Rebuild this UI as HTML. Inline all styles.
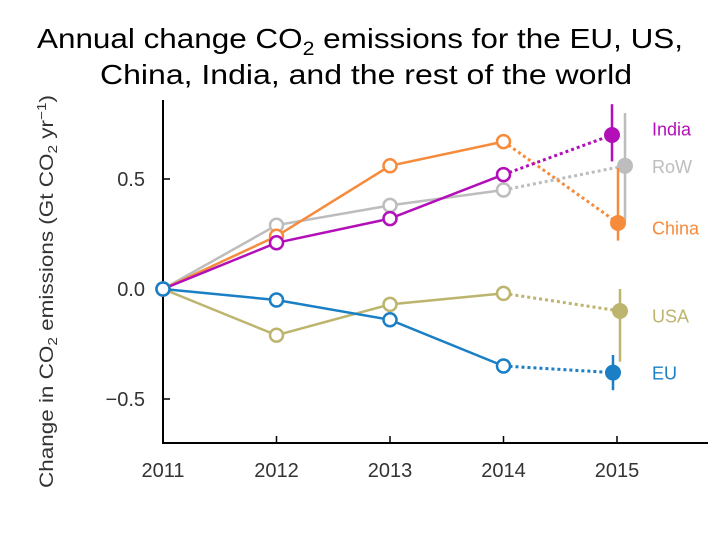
<!DOCTYPE html>
<html><head><meta charset="utf-8"><style>
body{margin:0;background:#fff;width:720px;height:540px;overflow:hidden;font-family:"Liberation Sans",sans-serif}
</style></head><body>
<svg width="720" height="540" xmlns="http://www.w3.org/2000/svg">
<text x="37" y="48" font-size="28" fill="#000" textLength="646" lengthAdjust="spacingAndGlyphs">Annual change CO<tspan font-size="19" dy="7">2</tspan><tspan dy="-7"> emissions for the EU, US,</tspan></text>
<text x="100" y="84" font-size="28" fill="#000" textLength="532" lengthAdjust="spacingAndGlyphs">China, India, and the rest of the world</text>
<text transform="translate(53,488) rotate(-90)" font-size="19" fill="#333" textLength="393" lengthAdjust="spacingAndGlyphs">Change in CO<tspan font-size="13" dy="4">2</tspan><tspan dy="-4"> emissions  (Gt CO</tspan><tspan font-size="13" dy="4">2</tspan><tspan dy="-4"> yr</tspan><tspan font-size="13" dy="-7">−1</tspan><tspan dy="7">)</tspan></text>
<g id="axes"></g>
<g id="series"></g>
</svg>
<script>
const years=[2011,2012,2013,2014,2015];
const yTicks=[0.5,0.0,-0.5];
const yTickLabels=["0.5","0.0","−0.5"];
const names=["RoW","China","India","USA","EU"];
const colors=["#bdbdbd","#f68b3c","#b20fb8","#bdb46d","#1a7fc4"];
const valRoW=[0,0.29,0.38,0.45,0.56];
const valChina=[0,0.24,0.56,0.67,0.30];
const valIndia=[0,0.21,0.32,0.52,0.70];
const valUSA=[0,-0.21,-0.07,-0.02,-0.10];
const valEU=[0,-0.05,-0.14,-0.35,-0.38];
const errLo=[0.25,0.08,0.12,0.23,0.08];
const errHi=[0.24,0.25,0.14,0.10,0.08];
const x2015Offset=[8,1,-5,3,-4];
const labelY=[0.56,0.28,0.73,-0.12,-0.38];
const all=[valRoW,valChina,valIndia,valUSA,valEU];
const NS="http://www.w3.org/2000/svg";
const X=y=>163+(y-2011)*113.5;
const Y=v=>289-v*220;
function mk(tag,attrs,parent){const e=document.createElementNS(NS,tag);for(const k in attrs)e.setAttribute(k,attrs[k]);parent.appendChild(e);return e;}
const ax=document.getElementById('axes');
let a=mk('line',{x1:163,y1:100,x2:163,y2:443,stroke:'#000','stroke-width':2},ax);


a=mk('line',{x1:162,y1:443,x2:708,y2:443,stroke:'#000','stroke-width':2},ax);


yTicks.forEach((t,i)=>{
 mk('line',{x1:163,y1:Y(t),x2:170,y2:Y(t),stroke:'#000','stroke-width':1.5},ax);
 const tx=mk('text',{x:145,y:Y(t)+7,'text-anchor':'end','font-size':20,fill:'#333'},ax);
 tx.textContent=yTickLabels[i];
 
 
});
years.forEach(y=>{
 mk('line',{x1:X(y),y1:436,x2:X(y),y2:443,stroke:'#000','stroke-width':1.5},ax);
 const tx=mk('text',{x:X(y),y:477,'text-anchor':'middle','font-size':20,fill:'#333'},ax);
 tx.textContent=y;
 
 
});
const sg=document.getElementById('series');
all.forEach((vals,s)=>{
 const c=colors[s];
 const g=mk('g',{},sg);
 
 
 let pts=vals.slice(0,4).map((v,i)=>X(years[i])+','+Y(v)).join(' ');
 mk('polyline',{points:pts,fill:'none',stroke:c,'stroke-width':2.5},g);
 const x5=X(2015)+x2015Offset[s];
 mk('line',{x1:X(2014),y1:Y(vals[3]),x2:x5,y2:Y(vals[4]),stroke:c,'stroke-width':3,'stroke-dasharray':'3,3'},g);
 mk('line',{x1:x5,y1:Y(vals[4]+errHi[s]),x2:x5,y2:Y(vals[4]-errLo[s]),stroke:c,'stroke-width':2.5},g);
 vals.slice(0,4).forEach((v,i)=>{
  const p=mk('circle',{cx:X(years[i]),cy:Y(v),r:6.5,fill:'#fff',stroke:c,'stroke-width':2.5},g);
  
  
 });
 const p=mk('circle',{cx:x5,cy:Y(vals[4]),r:8,fill:c},g);
 
 
 const l=mk('text',{x:652,y:Y(labelY[s])+7,'font-size':18,fill:c},g);
 l.textContent=names[s];
 
 
});
</script>
</body></html>
